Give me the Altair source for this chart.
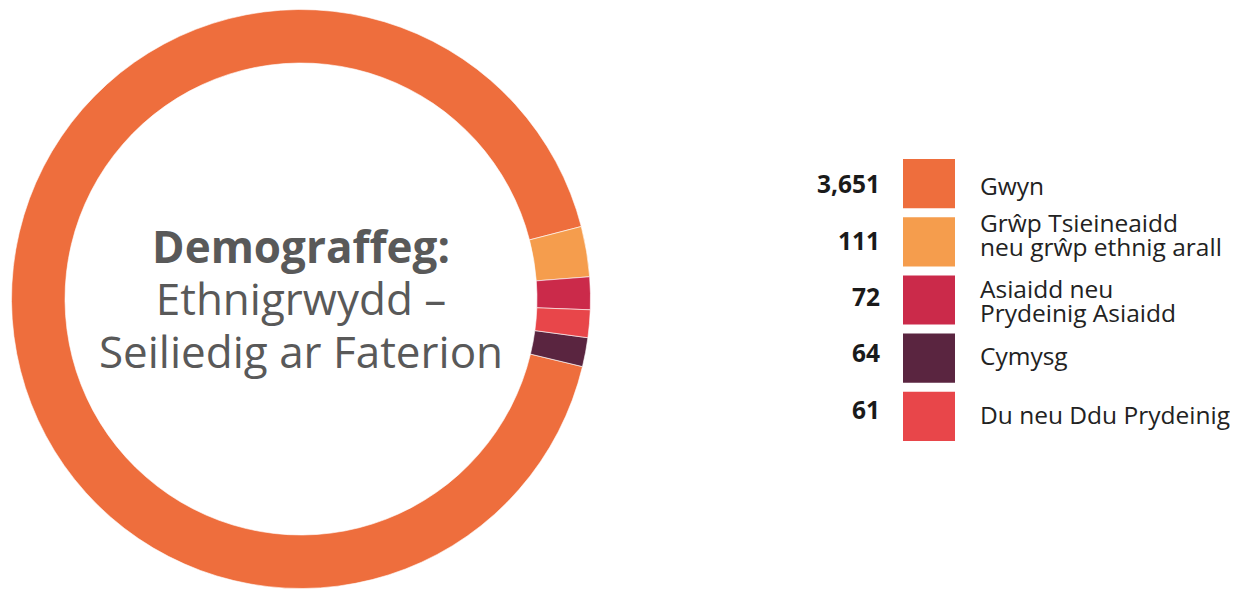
import math
import altair as alt
import pandas as pd

# ---- data ----
categories = ["Gwyn", "Grŵp Tsieineaidd\nneu grŵp ethnig arall", "Asiaidd neu\nPrydeinig Asiaidd", "Cymysg", "Du neu Ddu Prydeinig"]
keys = ["Gwyn", "Grwp", "Asiaidd", "Cymysg", "Du"]
values = [3651, 111, 72, 64, 61]
value_labels = ["3,651", "111", "72", "64", "61"]
colors = ["#EE6E3D", "#F59D4D", "#CB2A4A", "#5A2540", "#E8464A"]
# clockwise order in the ring (starting just above 3 o'clock)
ring_order = ["Grwp", "Asiaidd", "Du", "Cymysg", "Gwyn"]

title_bold = "Demograffeg:"
title_rest = "Ethnigrwydd –\nSeiliedig ar Faterion"

df = pd.DataFrame({
    "key": keys,
    "label": categories,
    "value": values,
    "vlabel": value_labels,
    "order": [ring_order.index(k) for k in keys],
})

FONT = "Open Sans"
DW, DH = 586, 580
start = math.radians(75.5)

color_scale = alt.Scale(domain=keys, range=colors)

ring = alt.Chart(df).mark_arc(innerRadius=236, outerRadius=289.5, stroke="white", strokeWidth=0.6).encode(
    theta=alt.Theta("value:Q", stack=True, scale=alt.Scale(range=[start, start + 2 * math.pi])),
    order=alt.Order("order:O"),
    color=alt.Color("key:N", scale=color_scale, legend=None),
)

t1 = alt.Chart(pd.DataFrame({"t": [title_bold]})).mark_text(
    font=FONT, fontSize=44, fontWeight="bold", color="#595959", align="center", baseline="alphabetic"
).encode(x=alt.value(DW / 2), y=alt.value(254), text="t:N")

t2 = alt.Chart(pd.DataFrame({"t": [title_rest]})).mark_text(
    font=FONT, fontSize=44, color="#595959", align="center", baseline="alphabetic", lineBreak="\n", lineHeight=53
).encode(x=alt.value(DW / 2), y=alt.value(306), text="t:N")

donut = alt.layer(ring, t1, t2).properties(width=DW, height=DH)

yscale = alt.Scale(domain=keys, paddingInner=0.155, paddingOuter=0, range=[150, 432])
yenc = alt.Y("key:N", scale=yscale, axis=None, sort=keys)

VW = 263
vals = alt.Chart(df).mark_text(
    font=FONT, fontSize=24.5, fontWeight="bold", color="#1a1a1a", align="right", baseline="middle", dy=-1
).encode(x=alt.value(VW), y=yenc, text="vlabel:N").properties(width=VW, height=DH)

sw = alt.Chart(df).mark_rect().encode(
    y=yenc, color=alt.Color("key:N", scale=color_scale, legend=None)
).properties(width=52, height=DH)

label_dy = {"Gwyn": 1, "Grwp": -19, "Asiaidd": -9, "Cymysg": 2, "Du": 4}
lab_layers = []
for k in keys:
    lab_layers.append(
        alt.Chart(df).transform_filter(alt.datum.key == k).mark_text(
            font=FONT, fontSize=24.5, color="#222222", align="left", baseline="middle",
            lineBreak="\n", lineHeight=24, dy=label_dy[k]
        ).encode(x=alt.value(2), y=yenc, text="label:N")
    )
labs = alt.layer(*lab_layers).properties(width=250, height=DH)

chart = alt.hconcat(donut, vals, sw, labs, spacing=23).properties(padding=0).configure_view(strokeWidth=0)

chart.save("out.html", embed_options={"renderer": "svg", "actions": False})
